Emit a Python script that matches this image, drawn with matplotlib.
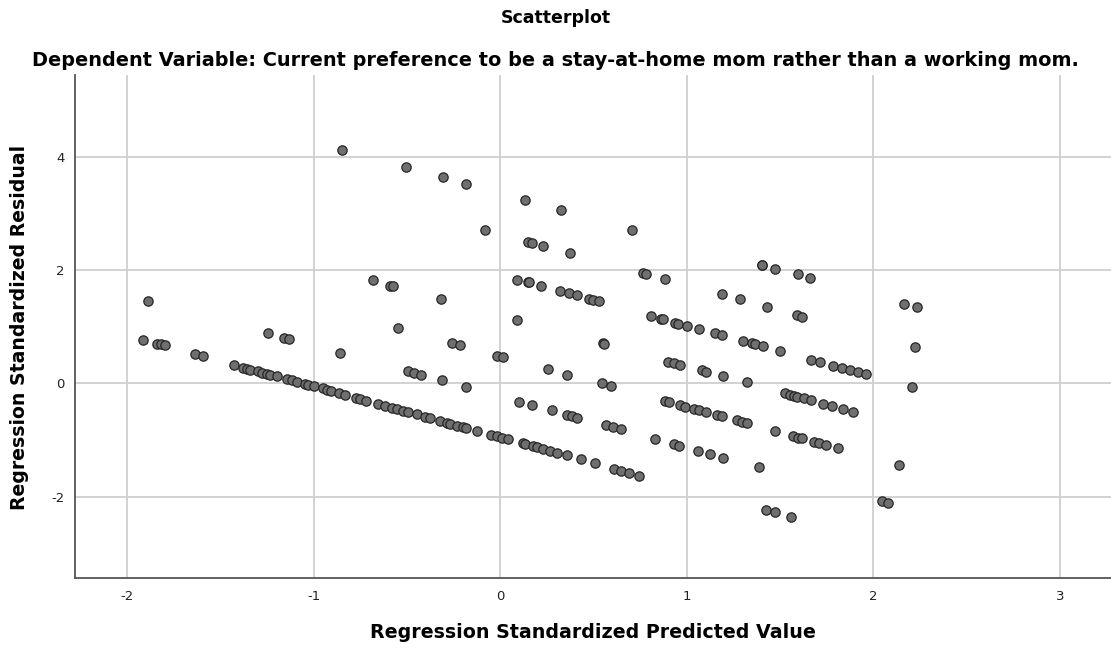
#!/usr/bin/env python3

import numpy as np
import matplotlib
matplotlib.use("Agg")
import matplotlib.pyplot as plt


# -----------------------------------------------------------
# Residuals vs. predicted values (standardized)
# -----------------------------------------------------------

# lowest diagonal band
diag_pred = [-1.427, -1.377, -1.359, -1.341, -1.300, -1.279, -1.252, -1.234,
             -1.195, -1.145, -1.118, -1.091, -1.047, -1.029, -0.998, -0.949,
             -0.930, -0.909, -0.863, -0.832, -0.773, -0.752, -0.720, -0.654,
             -0.618, -0.582, -0.555, -0.520, -0.493, -0.448, -0.404, -0.377,
             -0.323, -0.287, -0.270, -0.234, -0.198, -0.184, -0.126, -0.050,
             -0.019, 0.008, 0.040, 0.120, 0.132, 0.177, 0.197, 0.227,
             0.264, 0.306, 0.356, 0.432, 0.509, 0.612, 0.649, 0.692, 0.744]
diag_resid = [0.330, 0.275, 0.258, 0.243, 0.210, 0.187, 0.170, 0.155,
              0.120, 0.076, 0.055, 0.030, -0.008, -0.030, -0.050, -0.090,
              -0.110, -0.130, -0.175, -0.205, -0.257, -0.277, -0.305, -0.365,
              -0.398, -0.430, -0.455, -0.488, -0.510, -0.550, -0.590, -0.612,
              -0.660, -0.695, -0.710, -0.745, -0.778, -0.792, -0.842, -0.907,
              -0.935, -0.960, -0.988, -1.058, -1.070, -1.110, -1.128, -1.155,
              -1.188, -1.225, -1.270, -1.338, -1.410, -1.510, -1.542, -1.578,
              -1.628]

# left half, above the band
left_pred = [-0.850, -0.507, -0.309, -0.184, -0.084, -0.680, -0.591, -0.577,
             -1.888, -0.318, -0.547, -1.245, -1.159, -1.131, -1.913, -1.838,
             -1.820, -1.797, -1.638, -1.595, -0.861, -0.257, -0.216, -0.495,
             -0.461, -0.425, -0.311, -0.184, -0.019, 0.016, 0.091]
left_resid = [4.110, 3.810, 3.630, 3.515, 2.710, 1.820, 1.720, 1.720,
              1.460, 1.490, 0.975, 0.887, 0.800, 0.780, 0.770, 0.700,
              0.690, 0.670, 0.520, 0.480, 0.540, 0.716, 0.681, 0.210,
              0.180, 0.140, 0.050, -0.071, 0.487, 0.459, 1.120]

# middle section
mid_pred = [0.134, 0.325, 0.147, 0.171, 0.230, 0.374, 0.707,
            0.089, 0.147, 0.152, 0.218, 0.320, 0.368, 0.411, 0.477, 0.498, 0.529,
            0.766, 0.781, 0.883, 0.549, 0.558, 0.254, 0.359, 0.545, 0.595,
            0.100, 0.168, 0.277, 0.359, 0.384, 0.409, 0.566, 0.602, 0.648]
mid_resid = [3.230, 3.060, 2.500, 2.470, 2.430, 2.300, 2.710,
             1.830, 1.790, 1.790, 1.720, 1.630, 1.590, 1.550, 1.490, 1.470, 1.450,
             1.950, 1.930, 1.840, 0.705, 0.700, 0.247, 0.152, 0.000, -0.053,
             -0.325, -0.388, -0.476, -0.559, -0.577, -0.607, -0.741, -0.771, -0.811]

# right half
right_pred = [1.401, 1.405, 1.474, 1.594, 1.658, 1.190, 1.285, 1.431, 1.588, 1.618,
              0.808, 0.862, 0.874, 0.936, 0.952, 1.001, 1.064, 1.151, 1.186,
              1.302, 1.347, 1.367, 1.409, 1.499,
              1.665, 1.713, 1.785, 1.833, 1.874, 1.919, 1.960,
              0.900, 0.931, 0.963, 1.079, 1.102, 1.192, 1.324,
              0.884, 0.902, 0.965, 0.992, 1.036, 1.066, 1.103, 1.163, 1.188,
              1.267, 1.295, 1.320,
              1.526, 1.555, 1.574, 1.592, 1.626, 1.663, 1.731, 1.778, 1.838, 1.890,
              0.827, 0.931, 0.956, 1.058, 1.122, 1.192, 1.386,
              1.472, 1.570, 1.597, 1.615, 1.683, 1.710, 1.745, 1.810,
              1.424, 1.472, 1.560]
right_resid = [2.090, 2.085, 2.020, 1.920, 1.860, 1.570, 1.480, 1.350, 1.200, 1.170,
               1.190, 1.135, 1.130, 1.070, 1.050, 1.015, 0.960, 0.880, 0.850,
               0.746, 0.711, 0.688, 0.658, 0.564,
               0.410, 0.370, 0.310, 0.264, 0.229, 0.194, 0.159,
               0.381, 0.358, 0.328, 0.229, 0.205, 0.129, 0.018,
               -0.312, -0.330, -0.388, -0.410, -0.445, -0.470, -0.505, -0.559, -0.582,
               -0.653, -0.683, -0.705,
               -0.176, -0.200, -0.220, -0.235, -0.265, -0.295, -0.360, -0.405, -0.455, -0.500,
               -0.977, -1.070, -1.100, -1.190, -1.250, -1.310, -1.480,
               -0.841, -0.930, -0.960, -0.970, -1.030, -1.060, -1.080, -1.150,
               -2.235, -2.275, -2.360]

# far right
edge_pred = [2.163, 2.235, 2.221, 2.208, 2.138, 2.044, 2.079]
edge_resid = [1.400, 1.340, 0.635, -0.070, -1.440, -2.076, -2.106]

x_ticks = [-2, -1, 0, 1, 2, 3]
y_ticks = [-2, 0, 2, 4]


# -----------------------------------------------------------
# Plot
# -----------------------------------------------------------

def main():

    pred = np.concatenate([diag_pred, left_pred, mid_pred, right_pred, edge_pred])
    resid = np.concatenate([diag_resid, left_resid, mid_resid, right_resid, edge_resid])

    fig = plt.figure(figsize=(11.11, 6.49), dpi=100)
    ax = fig.add_axes([0.0672, 0.1094, 0.9328, 0.775])

    ax.scatter(
        pred,
        resid,
        s=45,
        facecolor="#6f6f6f",
        edgecolor="#262626",
        linewidth=0.9,
        zorder=3
    )

    ax.set_xlim(-2.281, 3.273)
    ax.set_ylim(-3.434, 5.437)

    ax.set_xticks(x_ticks)
    ax.set_yticks(y_ticks)
    ax.set_xticklabels([str(t) for t in x_ticks])
    ax.set_yticklabels([str(t) for t in y_ticks])
    ax.tick_params(axis="both", length=0, labelsize=9.5, colors="#222222")
    ax.tick_params(axis="x", pad=9)
    ax.tick_params(axis="y", pad=7)

    ax.grid(True, color="#cfcfcf", linewidth=1.3, zorder=0)
    ax.set_axisbelow(True)

    for side in ["top", "right"]:
        ax.spines[side].set_visible(False)
    for side in ["left", "bottom"]:
        ax.spines[side].set_color("#555555")
        ax.spines[side].set_linewidth(1.3)

    fig.text(0.5, 1 - 18 / 649, "Scatterplot",
             ha="center", va="center", fontsize=12.5, fontweight="bold")
    fig.text(0.5, 1 - 60 / 649,
             "Dependent Variable: Current preference to be a stay-at-home mom rather than a working mom.",
             ha="center", va="center", fontsize=13.9, fontweight="bold")

    fig.text(0.5334, 1 - 633 / 649, "Regression Standardized Predicted Value",
             ha="center", va="center", fontsize=13.7, fontweight="bold")
    fig.text(20 / 1111, 1 - 327 / 649, "Regression Standardized Residual",
             ha="center", va="center", rotation=90, fontsize=13.6, fontweight="bold")

    fig.savefig("out.png", dpi=100)


if __name__ == "__main__":
    main()
